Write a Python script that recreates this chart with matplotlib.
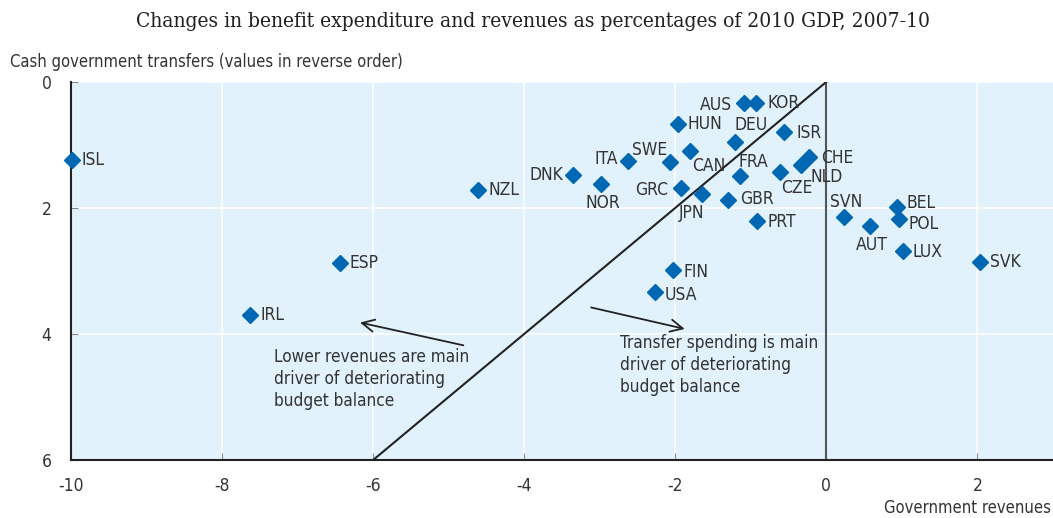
import matplotlib
matplotlib.use('Agg')
import matplotlib.pyplot as plt

# Data: changes as % of 2010 GDP, 2007-10
countries = ['ISL', 'NZL', 'ESP', 'IRL', 'DNK', 'NOR', 'ITA', 'SWE', 'HUN', 'CAN',
             'GRC', 'JPN', 'AUS', 'KOR', 'DEU', 'ISR', 'FRA', 'GBR', 'PRT', 'CZE',
             'CHE', 'NLD', 'SVN', 'AUT', 'BEL', 'POL', 'LUX', 'SVK', 'FIN', 'USA']
revenues = [-9.99, -4.61, -6.44, -7.63, -3.36, -2.99, -2.62, -2.07, -1.97, -1.80,
            -1.93, -1.64, -1.09, -0.93, -1.21, -0.56, -1.14, -1.30, -0.92, -0.62,
            -0.23, -0.33, 0.23, 0.58, 0.93, 0.96, 1.01, 2.03, -2.03, -2.27]
transfers = [1.24, 1.71, 2.87, 3.70, 1.48, 1.62, 1.25, 1.27, 0.67, 1.09,
             1.69, 1.78, 0.34, 0.34, 0.95, 0.79, 1.50, 1.87, 2.21, 1.43,
             1.20, 1.32, 2.15, 2.28, 1.98, 2.17, 2.69, 2.86, 2.99, 3.34]

# label placement: (dx px, dy px downward, ha)
label_pos = {
    'ISL': (10, 0, 'left'), 'NZL': (10, 0, 'left'), 'ESP': (10, 0, 'left'),
    'IRL': (10, 0, 'left'), 'DNK': (-9, 0, 'right'), 'NOR': (2, 19, 'center'),
    'ITA': (-10, -2, 'right'), 'SWE': (-20, -12, 'center'), 'HUN': (10, 0, 'left'),
    'CAN': (2, 15, 'left'), 'GRC': (-12, 2, 'right'), 'JPN': (-11, 19, 'center'),
    'AUS': (-12, 2, 'right'), 'KOR': (11, 0, 'left'), 'DEU': (16, -17, 'center'),
    'ISR': (12, 1, 'left'), 'FRA': (13, -14, 'center'), 'GBR': (12, -1, 'left'),
    'PRT': (11, 1, 'left'), 'CZE': (17, 16, 'center'), 'CHE': (12, 1, 'left'),
    'NLD': (9, 12, 'left'), 'SVN': (2, -15, 'center'), 'AUT': (2, 19, 'center'),
    'BEL': (10, -4, 'left'), 'POL': (10, 5, 'left'), 'LUX': (10, 1, 'left'),
    'SVK': (10, 0, 'left'), 'FIN': (10, 2, 'left'), 'USA': (10, 3, 'left'),
}

plt.rcParams['font.family'] = ['DejaVu Sans']
plt.rcParams['font.stretch'] = 'condensed'
plt.rcParams['axes.unicode_minus'] = False
text_col = '#333333'

fig = plt.figure(figsize=(10.53, 5.18), dpi=100)
ax = fig.add_axes([0.0674, 0.112, 0.9326, 0.7300])
ax.set_facecolor('#E1F2FC')

ax.set_xlim(-10, 3)
ax.set_ylim(6, 0)
ax.set_xticks([-10, -8, -6, -4, -2, 0, 2])
ax.set_yticks([0, 2, 4, 6])
ax.grid(True, color='white', linewidth=1.2)
ax.set_axisbelow(True)

for s in ['top', 'right']:
    ax.spines[s].set_visible(False)
for s in ['left', 'bottom']:
    ax.spines[s].set_color('#222222')
    ax.spines[s].set_linewidth(1.5)
ax.tick_params(direction='in', length=5, color='#888888', labelsize=12.5,
               labelcolor=text_col)
ax.tick_params(axis='x', pad=12)
ax.tick_params(axis='y', pad=14)

# reference lines
ax.axvline(0, color='#555555', linewidth=1.5, zorder=2)
ax.plot([-6, 0], [6, 0], color='#222222', linewidth=1.5, zorder=2)

ax.plot(revenues, transfers, linestyle='none', marker='D', markersize=8.5,
        color='#0067B3', zorder=3, clip_on=False)

for c, x, y in zip(countries, revenues, transfers):
    dx, dy, ha = label_pos[c]
    ax.annotate(c, (x, y), xytext=(dx, -dy), textcoords='offset pixels',
                ha=ha, va='center', fontsize=12.5, color=text_col, zorder=4)

# arrows
ax.annotate('', xy=(-6.21, 3.81), xytext=(-4.77, 4.19),
            arrowprops=dict(arrowstyle='->', color='#222222', lw=1.3,
                            mutation_scale=22))
ax.annotate('', xy=(-1.84, 3.93), xytext=(-3.15, 3.57),
            arrowprops=dict(arrowstyle='->', color='#222222', lw=1.3,
                            mutation_scale=22))

ax.text(-7.31, 4.22, 'Lower revenues are main\ndriver of deteriorating\nbudget balance',
        ha='left', va='top', fontsize=12.3, color=text_col, linespacing=1.3)
ax.text(-2.73, 4.0, 'Transfer spending is main\ndriver of deteriorating\nbudget balance',
        ha='left', va='top', fontsize=12.3, color=text_col, linespacing=1.3)

fig.text(0.506, 0.958, 'Changes in benefit expenditure and revenues as percentages of 2010 GDP, 2007-10',
         ha='center', va='center', fontsize=15, color='#222222',
         family=['DejaVu Serif'])
fig.text(0.0095, 0.88, 'Cash government transfers (values in reverse order)',
         ha='left', va='center', fontsize=11.9, color=text_col)
fig.text(0.998, 0.019, 'Government revenues', ha='right', va='center',
         fontsize=11.9, color=text_col)

fig.savefig('out.png', dpi=100)
